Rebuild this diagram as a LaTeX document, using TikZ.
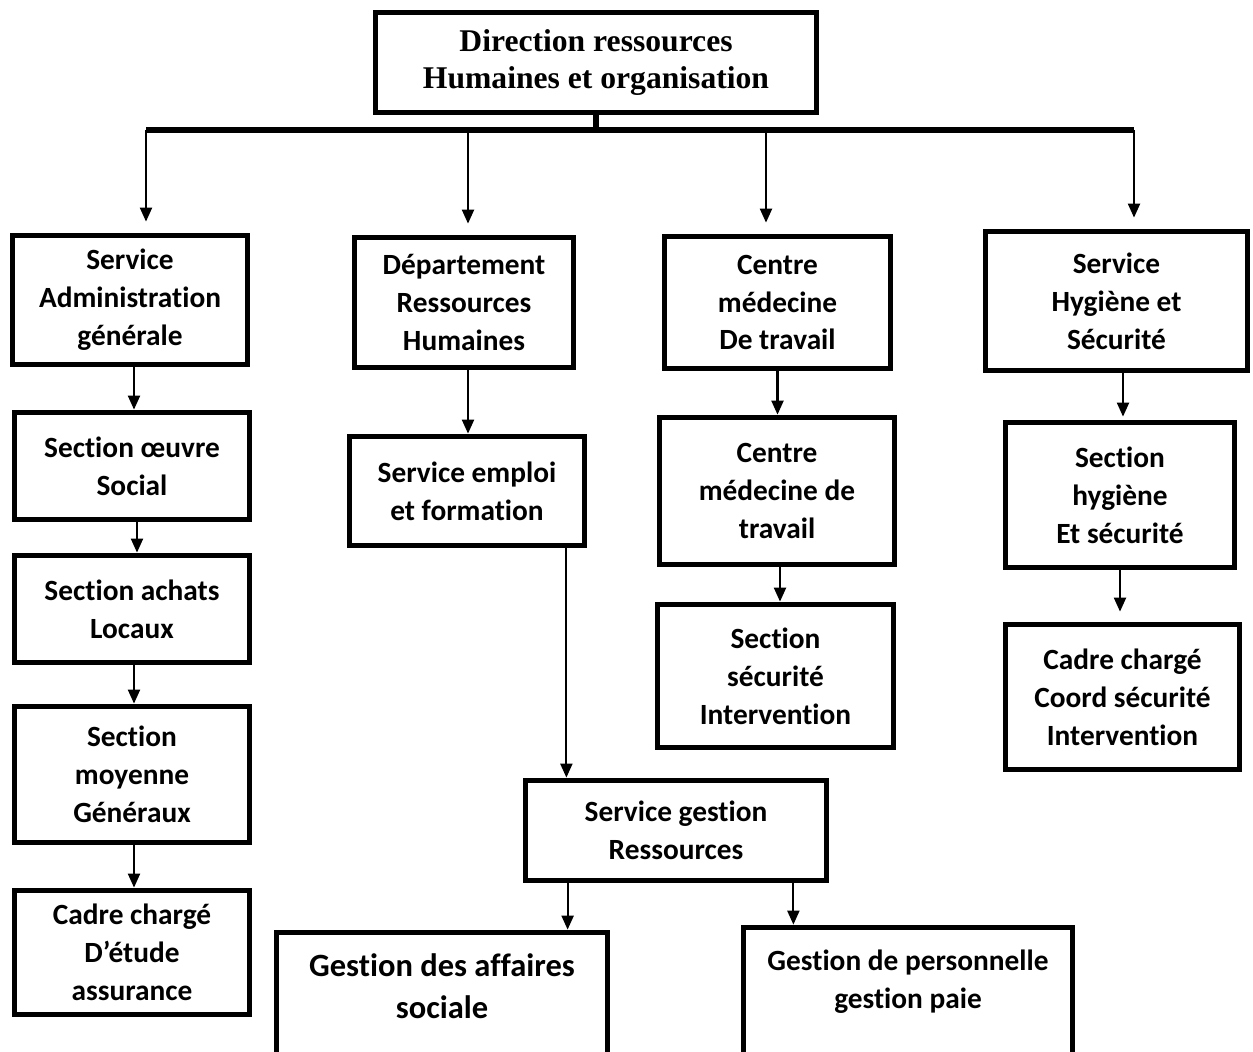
\documentclass[tikz,border=0pt]{standalone}
\usepackage{fontspec}
\setmainfont[Ligatures=NoCommon]{Carlito}
\newfontfamily\titlefont{Liberation Serif}
\usetikzlibrary{arrows.meta}

\tikzset{
  unit/.style={draw, line width=3.3pt, align=center, inner sep=0pt,
    font=\bfseries\fontsize{16.7}{21.6}\selectfont},
  arr/.style={-{Triangle[length=0.28cm,width=0.24cm]}, line width=1.2pt},
  busline/.style={line width=3.4pt}
}

\begin{document}
\begin{tikzpicture}[x=0.02cm, y=-0.02cm]
	 \useasboundingbox (0,0) rectangle (1253,1051);

	 \node[unit, minimum width=8.82cm, minimum height=2cm,
	   font=\titlefont\bfseries\fontsize{18}{21.6}\selectfont] (direction) at (596,62.5)
	   {Direction ressources\\Humaines et organisation};

	 \node[unit, minimum width=4.7cm, minimum height=2.58cm] (admin) at (130,300) {Service\\Administration\\générale};
	 \node[unit, minimum width=4.7cm, minimum height=2.14cm] (oeuvre) at (132,466) {Section œuvre\\Social};
	 \node[unit, minimum width=4.7cm, minimum height=2.14cm] (achats) at (132,609) {Section achats\\Locaux};
	 \node[unit, minimum width=4.7cm, minimum height=2.72cm] (moyenne) at (132,774.5) {Section\\moyenne\\Généraux};
	 \node[unit, minimum width=4.7cm, minimum height=2.48cm] (cadreA) at (132,952.5) {Cadre chargé\\D’étude\\assurance};

	 \node[unit, minimum width=4.38cm, minimum height=2.6cm] (dept) at (464,302.5) {Département\\Ressources\\Humaines};
	 \node[unit, minimum width=4.7cm, minimum height=2.18cm] (emploi) at (467,491) {Service emploi\\et formation};
	 \node[unit, minimum width=6.02cm, minimum height=2cm] (gestion) at (676,830.5) {Service gestion\\Ressources};
	 \node[unit, minimum width=6.62cm, minimum height=2.98cm,
	   font=\bfseries\fontsize{18.5}{23.8}\selectfont] (affaires) at (442,1007) {Gestion des affaires\\sociale\\~};
	 \node[unit, minimum width=6.58cm, minimum height=2.82cm] (perso) at (908,998) {Gestion de personnelle\\gestion paie\\~};

	 \node[unit, minimum width=4.52cm, minimum height=2.64cm] (centreA) at (777.5,302.5) {Centre\\médecine\\De travail};
	 \node[unit, minimum width=4.7cm, minimum height=2.94cm] (centreB) at (777,491) {Centre\\médecine de\\travail};
	 \node[unit, minimum width=4.72cm, minimum height=2.86cm] (secu) at (775.5,676) {Section\\sécurité\\Intervention};

	 \node[unit, minimum width=5.24cm, minimum height=2.78cm] (hygiene) at (1116.5,301) {Service\\Hygiène et\\Sécurité};
	 \node[unit, minimum width=4.58cm, minimum height=2.9cm] (secthyg) at (1120,495) {Section\\hygiène\\Et sécurité};
	 \node[unit, minimum width=4.68cm, minimum height=2.9cm] (cadreB) at (1122.5,697) {Cadre chargé\\Coord sécurité\\Intervention};

	 % bus under the direction box
	 \coordinate (busA) at (146,130);
	 \coordinate (busB) at (468,130);
	 \coordinate (busC) at (766,130);
	 \coordinate (busD) at (1134,130);
	 \draw[busline] (direction.south) -- (direction.south |- busA);
	 \draw[busline] (busA) -- (busD);

	 \draw[arr, shorten >=0.22cm] (busA) -- (busA |- admin.north);
	 \draw[arr, shorten >=0.22cm] (busB) -- (busB |- dept.north);
	 \draw[arr, shorten >=0.22cm] (busC) -- (busC |- centreA.north);
	 \draw[arr, shorten >=0.22cm] (busD) -- (busD |- hygiene.north);

	 % first column
	 \draw[arr] ([xshift=0.08cm]admin.south) -- ([xshift=0.08cm]admin.south |- oeuvre.north);
	 \draw[arr] ([xshift=0.1cm]oeuvre.south) -- ([xshift=0.1cm]oeuvre.south |- achats.north);
	 \draw[arr] ([xshift=0.04cm]achats.south) -- ([xshift=0.04cm]achats.south |- moyenne.north);
	 \draw[arr] ([xshift=0.04cm]moyenne.south) -- ([xshift=0.04cm]moyenne.south |- cadreA.north);

	 % second column
	 \draw[arr] ([xshift=0.08cm]dept.south) -- ([xshift=0.08cm]dept.south |- emploi.north);
	 \draw[arr] ([xshift=-0.42cm]emploi.south east) -- ([xshift=-0.42cm]emploi.south east |- gestion.north);
	 \draw[arr] ([xshift=0.9cm]gestion.south west) -- ([xshift=0.9cm]gestion.south west |- affaires.north);
	 \draw[arr] ([xshift=-0.72cm]gestion.south east) -- ([xshift=-0.72cm]gestion.south east |- perso.north);

	 % third column
	 \draw[arr] (centreA.south) -- (centreA.south |- centreB.north);
	 \draw[arr] ([xshift=0.06cm]centreB.south) -- ([xshift=0.06cm]centreB.south |- secu.north);

	 % fourth column
	 \draw[arr, shorten >=0.06cm] ([xshift=0.13cm]hygiene.south) -- ([xshift=0.13cm]hygiene.south |- secthyg.north);
	 \draw[arr, shorten >=0.2cm] (secthyg.south) -- (secthyg.south |- cadreB.north);
\end{tikzpicture}
\end{document}
